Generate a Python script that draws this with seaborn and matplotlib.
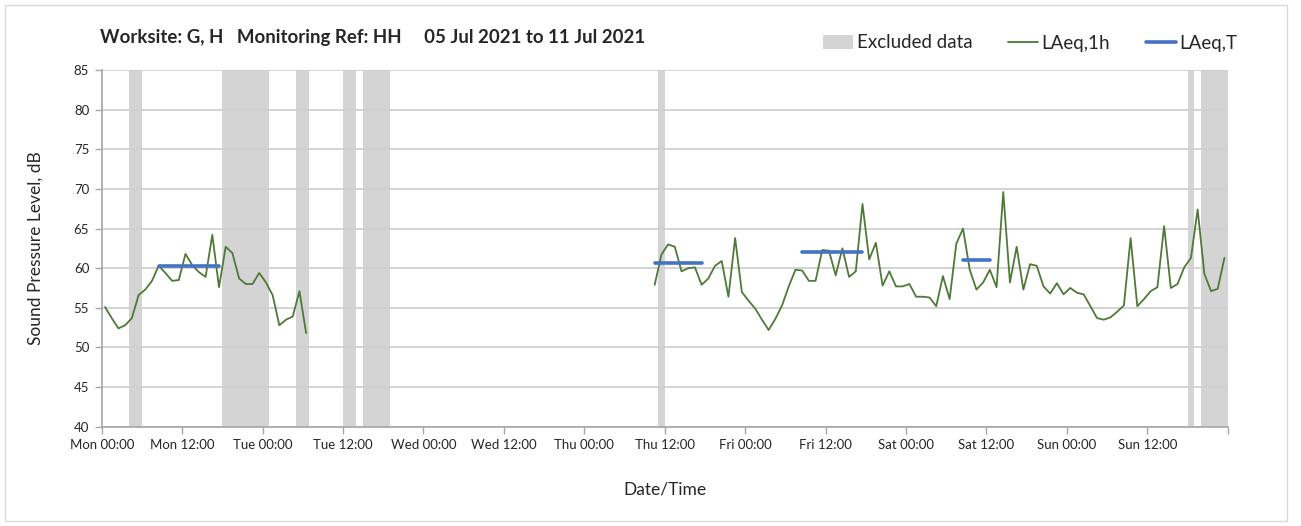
import numpy as np
import pandas as pd
import matplotlib
matplotlib.use("Agg")
import matplotlib.pyplot as plt
import matplotlib.dates as mdates
from matplotlib.patches import Patch, Rectangle
from matplotlib.lines import Line2D
import seaborn as sns

# ---------------- data ----------------
title_text = "Worksite: G, H   Monitoring Ref: HH     05 Jul 2021 to 11 Jul 2021"

period_start = "2021-07-05 00:00"
period_end = "2021-07-12 00:00"

# hourly LAeq,1h, segment 1 (plotted at half-hour marks)
seg1_start = "2021-07-05 00:30"
laeq_1h_seg1 = [55.1, 53.7, 52.4, 52.8, 53.7, 56.6, 57.3, 58.4, 60.3, 59.4,
                58.4, 58.5, 61.8, 60.4, 59.5, 58.9, 64.2, 57.6, 62.7, 61.9,
                58.7, 58.0, 58.0, 59.4, 58.2, 56.6, 52.8, 53.5, 53.9, 57.1,
                51.8]

# hourly LAeq,1h, segment 2
seg2_start = "2021-07-08 10:30"
laeq_1h_seg2 = [57.9, 61.7, 63.0, 62.7, 59.6, 60.0, 60.1, 57.9, 58.7, 60.3,
                60.9, 56.4, 63.8, 57.0, 55.9, 54.9, 53.5, 52.2, 53.6, 55.3,
                57.7, 59.8, 59.7, 58.4, 58.4, 62.3, 62.2, 59.1, 62.5, 58.9,
                59.6, 68.1, 61.1, 63.2, 57.8, 59.6, 57.7, 57.7, 58.0, 56.4,
                56.4, 56.3, 55.2, 59.0, 56.1, 63.1, 65.0, 59.8, 57.3, 58.2,
                59.8, 57.6, 69.6, 58.2, 62.7, 57.3, 60.5, 60.3, 57.7, 56.8,
                58.1, 56.7, 57.5, 56.9, 56.7, 55.2, 53.7, 53.5, 53.8, 54.5,
                55.3, 63.8, 55.2, 56.1, 57.1, 57.6, 65.3, 57.5, 58.0, 60.1,
                61.3, 67.4, 59.3, 57.1, 57.4, 61.3]

# LAeq,T periods
laeqT_start = ["2021-07-05 08:30", "2021-07-08 10:30", "2021-07-09 08:30", "2021-07-10 08:30"]
laeqT_end = ["2021-07-05 17:30", "2021-07-08 17:30", "2021-07-09 17:30", "2021-07-10 12:30"]
laeqT_value = [60.3, 60.6, 62.1, 61.0]

# excluded data periods
excl_start = ["2021-07-05 04:00", "2021-07-05 18:00", "2021-07-06 05:00", "2021-07-06 12:00",
              "2021-07-06 15:00", "2021-07-08 11:00", "2021-07-11 18:00", "2021-07-11 20:00"]
excl_end = ["2021-07-05 06:00", "2021-07-06 01:00", "2021-07-06 07:00", "2021-07-06 14:00",
            "2021-07-06 19:00", "2021-07-08 12:00", "2021-07-11 19:00", "2021-07-12 00:00"]

# ---------------- build frames ----------------
df1 = pd.DataFrame({"time": pd.date_range(seg1_start, periods=len(laeq_1h_seg1), freq="h"),
                    "level": laeq_1h_seg1, "seg": 1})
df2 = pd.DataFrame({"time": pd.date_range(seg2_start, periods=len(laeq_1h_seg2), freq="h"),
                    "level": laeq_1h_seg2, "seg": 2})
df_1h = pd.concat([df1, df2], ignore_index=True)

rows = []
for i, (s, e, v) in enumerate(zip(laeqT_start, laeqT_end, laeqT_value)):
    rows.append({"time": pd.Timestamp(s), "level": v, "seg": i})
    rows.append({"time": pd.Timestamp(e), "level": v, "seg": i})
df_T = pd.DataFrame(rows)

# ---------------- style ----------------
sns.set_theme(style="white")
plt.rcParams["font.family"] = ["Lato", "DejaVu Sans"]

GREEN = "#4E7A37"
BLUE = "#4472C4"
GREY_BAND = "#D4D4D4"
TEXT = "#262626"

fig = plt.figure(figsize=(13.01, 5.26), dpi=100)
ax = fig.add_axes([101.7 / 1301, 1 - 426.7 / 526, (1227.8 - 101.7) / 1301, (426.7 - 70) / 526])

for s, e in zip(excl_start, excl_end):
    ax.axvspan(pd.Timestamp(s), pd.Timestamp(e), color=GREY_BAND, lw=0, zorder=1)

sns.lineplot(data=df_1h, x="time", y="level", units="seg", estimator=None,
             color=GREEN, lw=1.3, ax=ax, zorder=4)
sns.lineplot(data=df_T, x="time", y="level", units="seg", estimator=None,
             color=BLUE, lw=2.6, ax=ax, zorder=5)

ax.set_xlim(pd.Timestamp(period_start), pd.Timestamp(period_end))
ax.set_ylim(40, 85)
ax.set_yticks(np.arange(40, 86, 5))

ax.xaxis.set_major_locator(mdates.HourLocator(byhour=[0, 12]))
def fmt(x, pos=None):
    d = mdates.num2date(x)
    if d.replace(tzinfo=None) >= pd.Timestamp(period_end).to_pydatetime():
        return ""
    return d.strftime("%a %H:%M")
ax.xaxis.set_major_formatter(plt.FuncFormatter(fmt))
ax.xaxis.set_minor_locator(mdates.DayLocator())

ax.grid(True, which="major", axis="y", color="#D0D0D0", lw=1.3, zorder=2)
ax.grid(True, which="minor", axis="x", color="#DCDCDC", lw=1.2, zorder=2)
ax.grid(False, which="major", axis="x")
ax.set_axisbelow(False)

for sp in ["top", "right"]:
    ax.spines[sp].set_visible(False)
for sp in ["left", "bottom"]:
    ax.spines[sp].set_color("#A6A6A6")
    ax.spines[sp].set_linewidth(1.2)
    ax.spines[sp].set_zorder(6)

ax.tick_params(axis="both", which="major", direction="out", length=5, width=1,
               color="#A6A6A6", labelsize=9.5, labelcolor=TEXT, pad=4,
               bottom=True, left=True)
ax.tick_params(axis="x", which="minor", length=0)

ax.set_xlabel("Date/Time", fontsize=12.5, color=TEXT, labelpad=22)
ax.set_ylabel("Sound Pressure Level, dB", fontsize=12.5, color=TEXT, labelpad=22)

fig.text(100 / 1301, 1 - 38 / 526, title_text, fontsize=13.4, fontweight="bold",
         color=TEXT, ha="left", va="center")

handles = [Patch(facecolor=GREY_BAND, edgecolor="none", label="Excluded data"),
           Line2D([], [], color=GREEN, lw=1.3, label="LAeq,1h"),
           Line2D([], [], color=BLUE, lw=2.6, label="LAeq,T")]
fig.legend(handles=handles, loc="center left", bbox_to_anchor=(806 / 1301, 1 - 43 / 526),
           ncol=3, frameon=False, fontsize=13.5, handlelength=1.6, handletextpad=0.2,
           columnspacing=1.9, labelcolor=TEXT)

fig.patches.append(Rectangle((5 / 1301, 5 / 526), 1282 / 1301, 1 - 10 / 526,
                             transform=fig.transFigure, fill=False,
                             edgecolor="#D9D9D9", lw=1.0))

fig.savefig("out.png", dpi=100, facecolor="white")
